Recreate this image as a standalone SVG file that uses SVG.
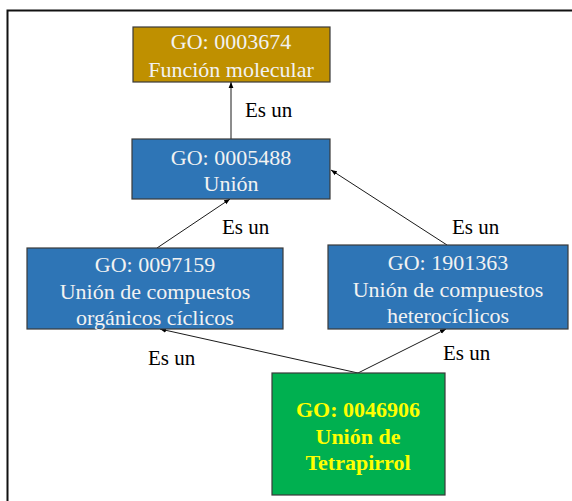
<svg xmlns="http://www.w3.org/2000/svg" width="572" height="501" viewBox="0 0 572 501">
  <defs>
    <marker id="arrow" viewBox="0 0 10 10" refX="10" refY="5" markerWidth="6" markerHeight="6" orient="auto" markerUnits="userSpaceOnUse">
      <path d="M0,1 L10,5 L0,9 z" fill="#000"/>
    </marker>
    <style>
      .box { stroke: #3a3a3a; stroke-width: 1.2; }
      .gold { fill: #BF9000; }
      .blue { fill: #2E75B6; }
      .green { fill: #00B050; }
      .t { font-family: "Liberation Serif", "Times New Roman", serif; font-size: 22px; fill: #F2F2F2; text-anchor: middle; }
      .ty { font-family: "Liberation Serif", "Times New Roman", serif; font-size: 22px; font-weight: bold; fill: #FFFF00; text-anchor: middle; }
      .lbl { font-family: "Liberation Serif", "Times New Roman", serif; font-size: 21px; fill: #000; }
      .edge { stroke: #1a1a1a; stroke-width: 1; fill: none; marker-end: url(#arrow); }
    </style>
  </defs>

  <rect width="572" height="501" fill="#fff"/>
  <!-- outer frame -->
  <rect x="7.5" y="10.5" width="600" height="520" fill="none" stroke="#111" stroke-width="2"/>

  <g id="connectors">
    <line class="edge" x1="231" y1="139" x2="231" y2="82"/>
    <line class="edge" x1="157" y1="248" x2="230" y2="199"/>
    <line class="edge" x1="447" y1="245" x2="331" y2="170"/>
    <line class="edge" x1="358" y1="373" x2="160" y2="329"/>
    <line class="edge" x1="358" y1="373" x2="446" y2="329"/>
    <text class="lbl" x="245" y="117">Es un</text>
    <text class="lbl" x="222" y="234">Es un</text>
    <text class="lbl" x="452" y="234">Es un</text>
    <text class="lbl" x="148" y="365">Es un</text>
    <text class="lbl" x="443" y="360">Es un</text>
  </g>

  <g id="go0003674">
    <rect class="box gold" x="133" y="27" width="197" height="55"/>
    <text class="t" x="231" y="49">GO: 0003674</text>
    <text class="t" x="231" y="77">Función molecular</text>
  </g>

  <g id="go0005488">
    <rect class="box blue" x="132" y="139" width="198" height="60"/>
    <text class="t" x="231" y="165">GO: 0005488</text>
    <text class="t" x="231" y="191">Unión</text>
  </g>

  <g id="go0097159">
    <rect class="box blue" x="27" y="248" width="256" height="81"/>
    <text class="t" x="155" y="272">GO: 0097159</text>
    <text class="t" x="155" y="299">Unión de compuestos</text>
    <text class="t" x="155" y="325">orgánicos cíclicos</text>
  </g>

  <g id="go1901363">
    <rect class="box blue" x="328" y="245" width="240" height="84"/>
    <text class="t" x="448" y="270">GO: 1901363</text>
    <text class="t" x="448" y="297">Unión de compuestos</text>
    <text class="t" x="448" y="323">heterocíclicos</text>
  </g>

  <g id="go0046906">
    <rect class="box green" x="272" y="373" width="173" height="122"/>
    <text class="ty" x="358" y="417">GO: 0046906</text>
    <text class="ty" x="358" y="444">Unión de</text>
    <text class="ty" x="358" y="470">Tetrapirrol</text>
  </g>
</svg>
